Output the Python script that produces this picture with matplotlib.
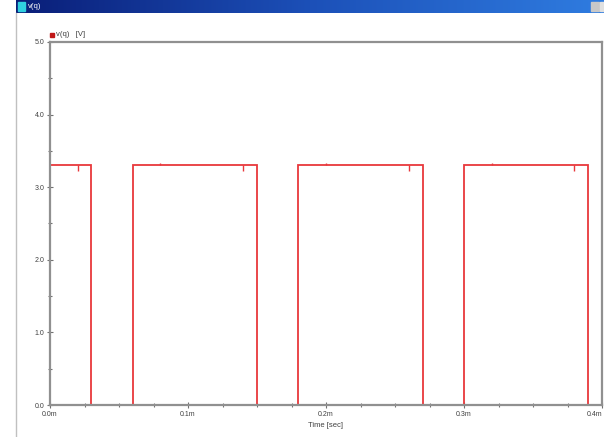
import numpy as np
import matplotlib
matplotlib.use("Agg")
import matplotlib.pyplot as plt
from matplotlib.ticker import MultipleLocator, FuncFormatter
from matplotlib.lines import Line2D
from matplotlib.patches import Rectangle
from matplotlib.colors import LinearSegmentedColormap

# ---- data (time in ms, voltage in V) ----
edge_times = [0.0, 0.03, 0.06, 0.15, 0.18, 0.27, 0.30, 0.39, 0.40]
seg_levels = [3.3, 0.0, 3.3, 0.0, 3.3, 0.0, 3.3, 0.0]
dip_times = [0.02, 0.14, 0.26, 0.38]
dip_depth = [0.08, 0.08, 0.08, 0.08]
bump_times = [0.08, 0.20, 0.32]
bump_height = [0.03, 0.03, 0.03]
high_level = 3.3
x_ticks = [0.0, 0.1, 0.2, 0.3, 0.4]
x_ticklabels = ["0.0m", "0.1m", "0.2m", "0.3m", "0.4m"]
y_ticks = [0.0, 1.0, 2.0, 3.0, 4.0, 5.0]

W, H = 604, 437
fig = plt.figure(figsize=(W / 100, H / 100), dpi=100)
fig.patch.set_facecolor("white")
plt.rcParams['font.family'] = ['Liberation Sans', 'DejaVu Sans']

# ---- window title bar ----
tb = fig.add_axes([16 / W, 1 - 13 / H, 1 - 16 / W, 13 / H])
grad = np.linspace(0, 1, 256)[None, :]
cmap = LinearSegmentedColormap.from_list("tb", ["#0A1E78", "#1C50B8", "#2F7CE0"])
tb.imshow(grad, aspect="auto", cmap=cmap, extent=[0, 1, 0, 1])
tb.set_xlim(0, 1); tb.set_ylim(0, 1)
tb.axis("off")
tb.add_patch(Rectangle((0.004, 0.15), 0.012, 0.7, color="#30D0E0", transform=tb.transAxes))
tb.text(0.02, 0.5, "v(q)", color="white", fontsize=5.5, va="center", ha="left",
        transform=tb.transAxes)
tb.add_patch(Rectangle((0.978, 0.15), 0.014, 0.7, color="#C8C8C8", transform=tb.transAxes))
tb.add_patch(Rectangle((0.994, 0.15), 0.01, 0.7, color="#E0E0E0", transform=tb.transAxes))

# window left border
fig.add_artist(Line2D([16 / W, 16 / W], [0, 1 - 13 / H], color="#C0C0C0", lw=1.0,
                      transform=fig.transFigure))

# ---- main plot ----
ax = fig.add_axes([50 / W, 32 / H, 552 / W, 363 / H])
ax.set_facecolor("white")
red = "#E8383C"

ts, vs = [], []
for i, lvl in enumerate(seg_levels):
    ts += [edge_times[i], edge_times[i + 1]]
    vs += [lvl, lvl]
ax.plot(ts, vs, color=red, lw=1.3, solid_joinstyle="miter", zorder=2)
ax.vlines(dip_times, [high_level - d for d in dip_depth], high_level, color=red, lw=1.0, zorder=2)
ax.vlines(bump_times, high_level, [high_level + b for b in bump_height], color=red, lw=1.0, zorder=2)

ax.set_xlim(0, 0.4)
ax.set_ylim(0, 5.0)
for s in ax.spines.values():
    s.set_color("#909090")
    s.set_linewidth(1.6)
    s.set_zorder(5)

ax.set_xticks(x_ticks)
ax.set_xticklabels(x_ticklabels)
ax.set_yticks(y_ticks)
ax.yaxis.set_major_formatter(FuncFormatter(lambda v, p: f"{v:.1f}"))
ax.xaxis.set_minor_locator(MultipleLocator(0.025))
ax.yaxis.set_minor_locator(MultipleLocator(0.5))
ax.tick_params(which="both", direction="inout", color="#707070", labelsize=5,
               labelcolor="#404040", pad=2)
ax.tick_params(which="major", length=4, width=0.8)
ax.tick_params(which="minor", length=2.5, width=0.8)
ax.get_xticklabels()[-1].set_horizontalalignment("right")

ax.set_xlabel("Time [sec]", fontsize=5.5, color="#404040", labelpad=3)

# legend label
fig.add_artist(Rectangle((50 / W, 1 - 37 / H), 4 / W, 4 / H, color="#C01818",
                         transform=fig.transFigure))
fig.text(56 / W, 1 - 35 / H, "v(q)   [V]", fontsize=5.5, color="#404040", va="center", ha="left")

fig.savefig("out.png", dpi=100, facecolor="white")
